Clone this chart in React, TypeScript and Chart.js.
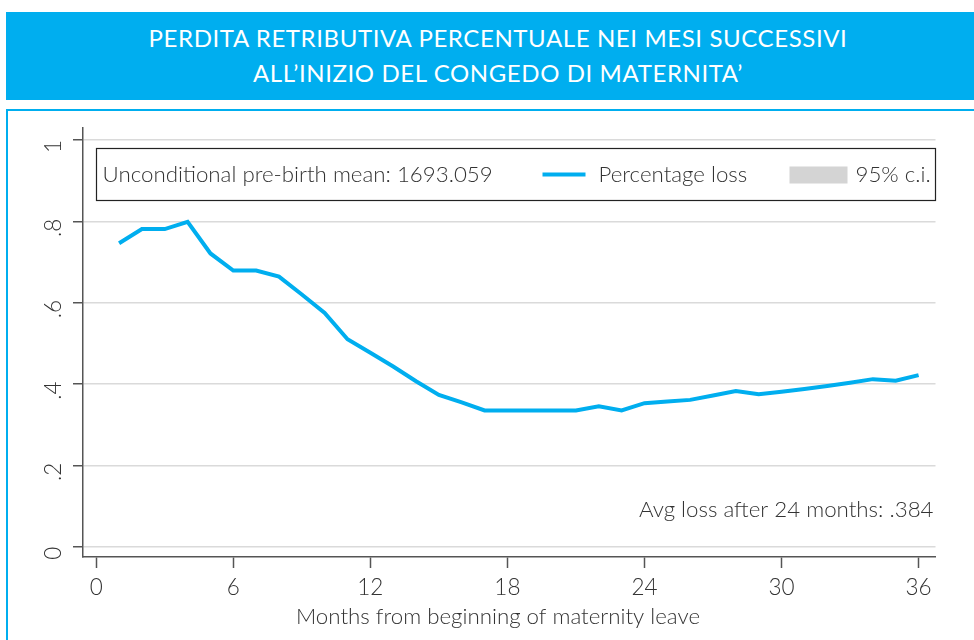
import React, { useEffect, useRef } from "react";
import { Chart, registerables } from "chart.js";

Chart.register(...registerables);

// ---- data ----
const months = [
  1, 2, 3, 4, 5, 6, 7, 8, 9, 10, 11, 12, 13, 14, 15, 16, 17, 18,
  19, 20, 21, 22, 23, 24, 25, 26, 27, 28, 29, 30, 31, 32, 33, 34, 35, 36,
];
const percentageLoss = [
  0.746, 0.781, 0.781, 0.799, 0.721, 0.679, 0.679, 0.664, 0.62, 0.575,
  0.51, 0.477, 0.443, 0.407, 0.373, 0.355, 0.335, 0.335, 0.335, 0.335,
  0.335, 0.345, 0.335, 0.353, 0.357, 0.361, 0.372, 0.383, 0.375, 0.381,
  0.388, 0.395, 0.403, 0.412, 0.408, 0.422,
];
const xTicks = [0, 6, 12, 18, 24, 30, 36];
const yTicks = [0, 0.2, 0.4, 0.6, 0.8, 1];
const yTickLabels = ["0", ".2", ".4", ".6", ".8", "1"];

const titleLines = [
  "PERDITA RETRIBUTIVA PERCENTUALE NEI MESI SUCCESSIVI",
  "ALL\u2019INIZIO DEL CONGEDO DI MATERNITA\u2019",
];
const xAxisTitle = "Months from beginning of maternity leave";
const legendNote = "Unconditional pre-birth mean: 1693.059";
const seriesLabel = "Percentage loss";
const ciLabel = "95% c.i.";
const avgNote = "Avg loss after 24 months: .384";

// ---- styles ----
const BLUE = "#00AEEF";
const TEXT = "#333333";
const AXIS = "#555555";
const GRID = "#dadada";
const CI_GRAY = "#d4d4d4";
const FONT = "Lato";
const FS = 22.3;
const TICK_FS = 22.5;

const X_MIN = -0.58;
const X_MAX = 36.74;
const Y_MIN = -0.0253;
const Y_MAX = 1.0295;

const overlayPlugin = {
  id: "overlay",
  afterDraw(chart: any) {
    const { ctx, chartArea } = chart;
    const yScale = chart.scales.y;
    const ds = chart.data.datasets[0];
    ctx.save();
    ctx.fillStyle = TEXT;
    ctx.font = `300 ${TICK_FS}px ${FONT}`;
    // rotated y tick labels
    yTicks.forEach((v, i) => {
      const py = yScale.getPixelForValue(v);
      ctx.save();
      ctx.translate(chartArea.left - 22.3, py + 6.5);
      ctx.rotate(-Math.PI / 2);
      ctx.textAlign = "center";
      ctx.textBaseline = "alphabetic";
      ctx.fillText(yTickLabels[i], 0, 0);
      ctx.restore();
    });

    // x axis title
    ctx.font = `300 ${FS}px ${FONT}`;
    ctx.textAlign = "center";
    ctx.textBaseline = "middle";
    ctx.fillText(xAxisTitle, chartArea.left + 415, 617);

    // legend box
    const bx = chartArea.left + 13.5;
    const by = 148.5;
    const bw = chartArea.right - bx;
    const bh = 52;
    ctx.strokeStyle = "#222222";
    ctx.lineWidth = 1.2;
    ctx.strokeRect(bx, by, bw, bh);
    const cy = by + bh / 2;
    ctx.textAlign = "left";
    ctx.textBaseline = "middle";
    ctx.fillStyle = TEXT;
    ctx.fillText(legendNote, bx + 6, cy);
    ctx.strokeStyle = ds.borderColor;
    ctx.lineWidth = 4;
    ctx.beginPath();
    ctx.moveTo(bx + 446, cy);
    ctx.lineTo(bx + 489, cy);
    ctx.stroke();
    ctx.fillText(ds.label, bx + 502, cy);
    ctx.fillStyle = CI_GRAY;
    ctx.fillRect(bx + 693, cy - 8, 58, 17);
    ctx.fillStyle = TEXT;
    ctx.fillText(ciLabel, bx + 759, cy);

    // avg note
    ctx.textAlign = "right";
    ctx.fillText(avgNote, chartArea.right - 2, 510);
    ctx.restore();
  },
};

export default function App() {
  const ref = useRef<HTMLCanvasElement>(null);
  useEffect(() => {
    const canvas = ref.current;
    if (!canvas) return;
    const chart = new Chart(canvas, {
      type: "line",
      data: {
        datasets: [
          {
            label: seriesLabel,
            data: months.map((m, i) => ({ x: m, y: percentageLoss[i] })),
            borderColor: BLUE,
            borderWidth: 4,
            pointRadius: 0,
            fill: false,
            tension: 0,
          },
        ],
      },
      options: {
        responsive: false,
        animation: false,
        events: [],
        layout: { padding: { left: 0, top: 128, right: 38.5, bottom: 0 } },
        plugins: {
          legend: { display: false },
          title: { display: false },
          tooltip: { enabled: false },
        },
        scales: {
          x: {
            type: "linear",
            min: X_MIN,
            max: X_MAX,
            afterBuildTicks: (s: any) => {
              s.ticks = xTicks.map((v) => ({ value: v }));
            },
            afterFit: (s: any) => {
              s.height = 83;
            },
            ticks: {
              font: { family: FONT, size: TICK_FS, weight: "300" as any },
              color: TEXT,
              padding: 6,
              maxRotation: 0,
              minRotation: 0,
              autoSkip: false,
              callback: (v: any) => String(v),
            },
            grid: {
              drawOnChartArea: false,
              tickLength: 11,
              tickColor: AXIS,
              tickWidth: 1.5,
            },
            border: { color: AXIS, width: 1.5 },
          },
          y: {
            type: "linear",
            min: Y_MIN,
            max: Y_MAX,
            afterBuildTicks: (s: any) => {
              s.ticks = yTicks.map((v) => ({ value: v }));
            },
            afterFit: (s: any) => {
              s.width = 83;
            },
            ticks: { display: false },
            grid: {
              color: GRID,
              lineWidth: 1.5,
              tickLength: 10,
              tickColor: AXIS,
              tickWidth: 1.5,
            },
            border: { color: AXIS, width: 1.5 },
          },
        },
      },
      plugins: [overlayPlugin],
    });
    let alive = true;
    if ((document as any).fonts && (document as any).fonts.load) {
      Promise.all([
        (document as any).fonts.load(`300 ${FS}px ${FONT}`),
        (document as any).fonts.load(`400 24px ${FONT}`),
      ]).then(() => {
        if (alive) chart.update();
      });
    }
    return () => {
      alive = false;
      chart.destroy();
    };
  }, []);

  return (
    <div
      style={{
        position: "fixed",
        left: 0,
        top: 0,
        width: 974,
        height: 640,
        overflow: "hidden",
        background: "#ffffff",
      }}
    >
      <div
        style={{
          position: "absolute",
          left: 6,
          top: 12,
          width: 980,
          height: 88,
          background: BLUE,
        }}
      />
      <div
        style={{
          position: "absolute",
          left: 0,
          top: 20,
          width: 996,
          textAlign: "center",
          color: "#ffffff",
          fontFamily: FONT,
          fontWeight: 400,
          fontSize: 24,
          letterSpacing: "0.6px",
          lineHeight: "35px",
          whiteSpace: "nowrap",
        }}
      >
        {titleLines.map((t, i) => (
          <div key={i}>{t}</div>
        ))}
      </div>
      <div
        style={{
          position: "absolute",
          left: 6,
          top: 109,
          width: 1000,
          height: 600,
          borderTop: `2px solid ${BLUE}`,
          borderLeft: `2px solid ${BLUE}`,
        }}
      />
      <canvas
        ref={ref}
        width={974}
        height={640}
        style={{ position: "absolute", left: 0, top: 0, width: 974, height: 640 }}
      />
    </div>
  );
}
